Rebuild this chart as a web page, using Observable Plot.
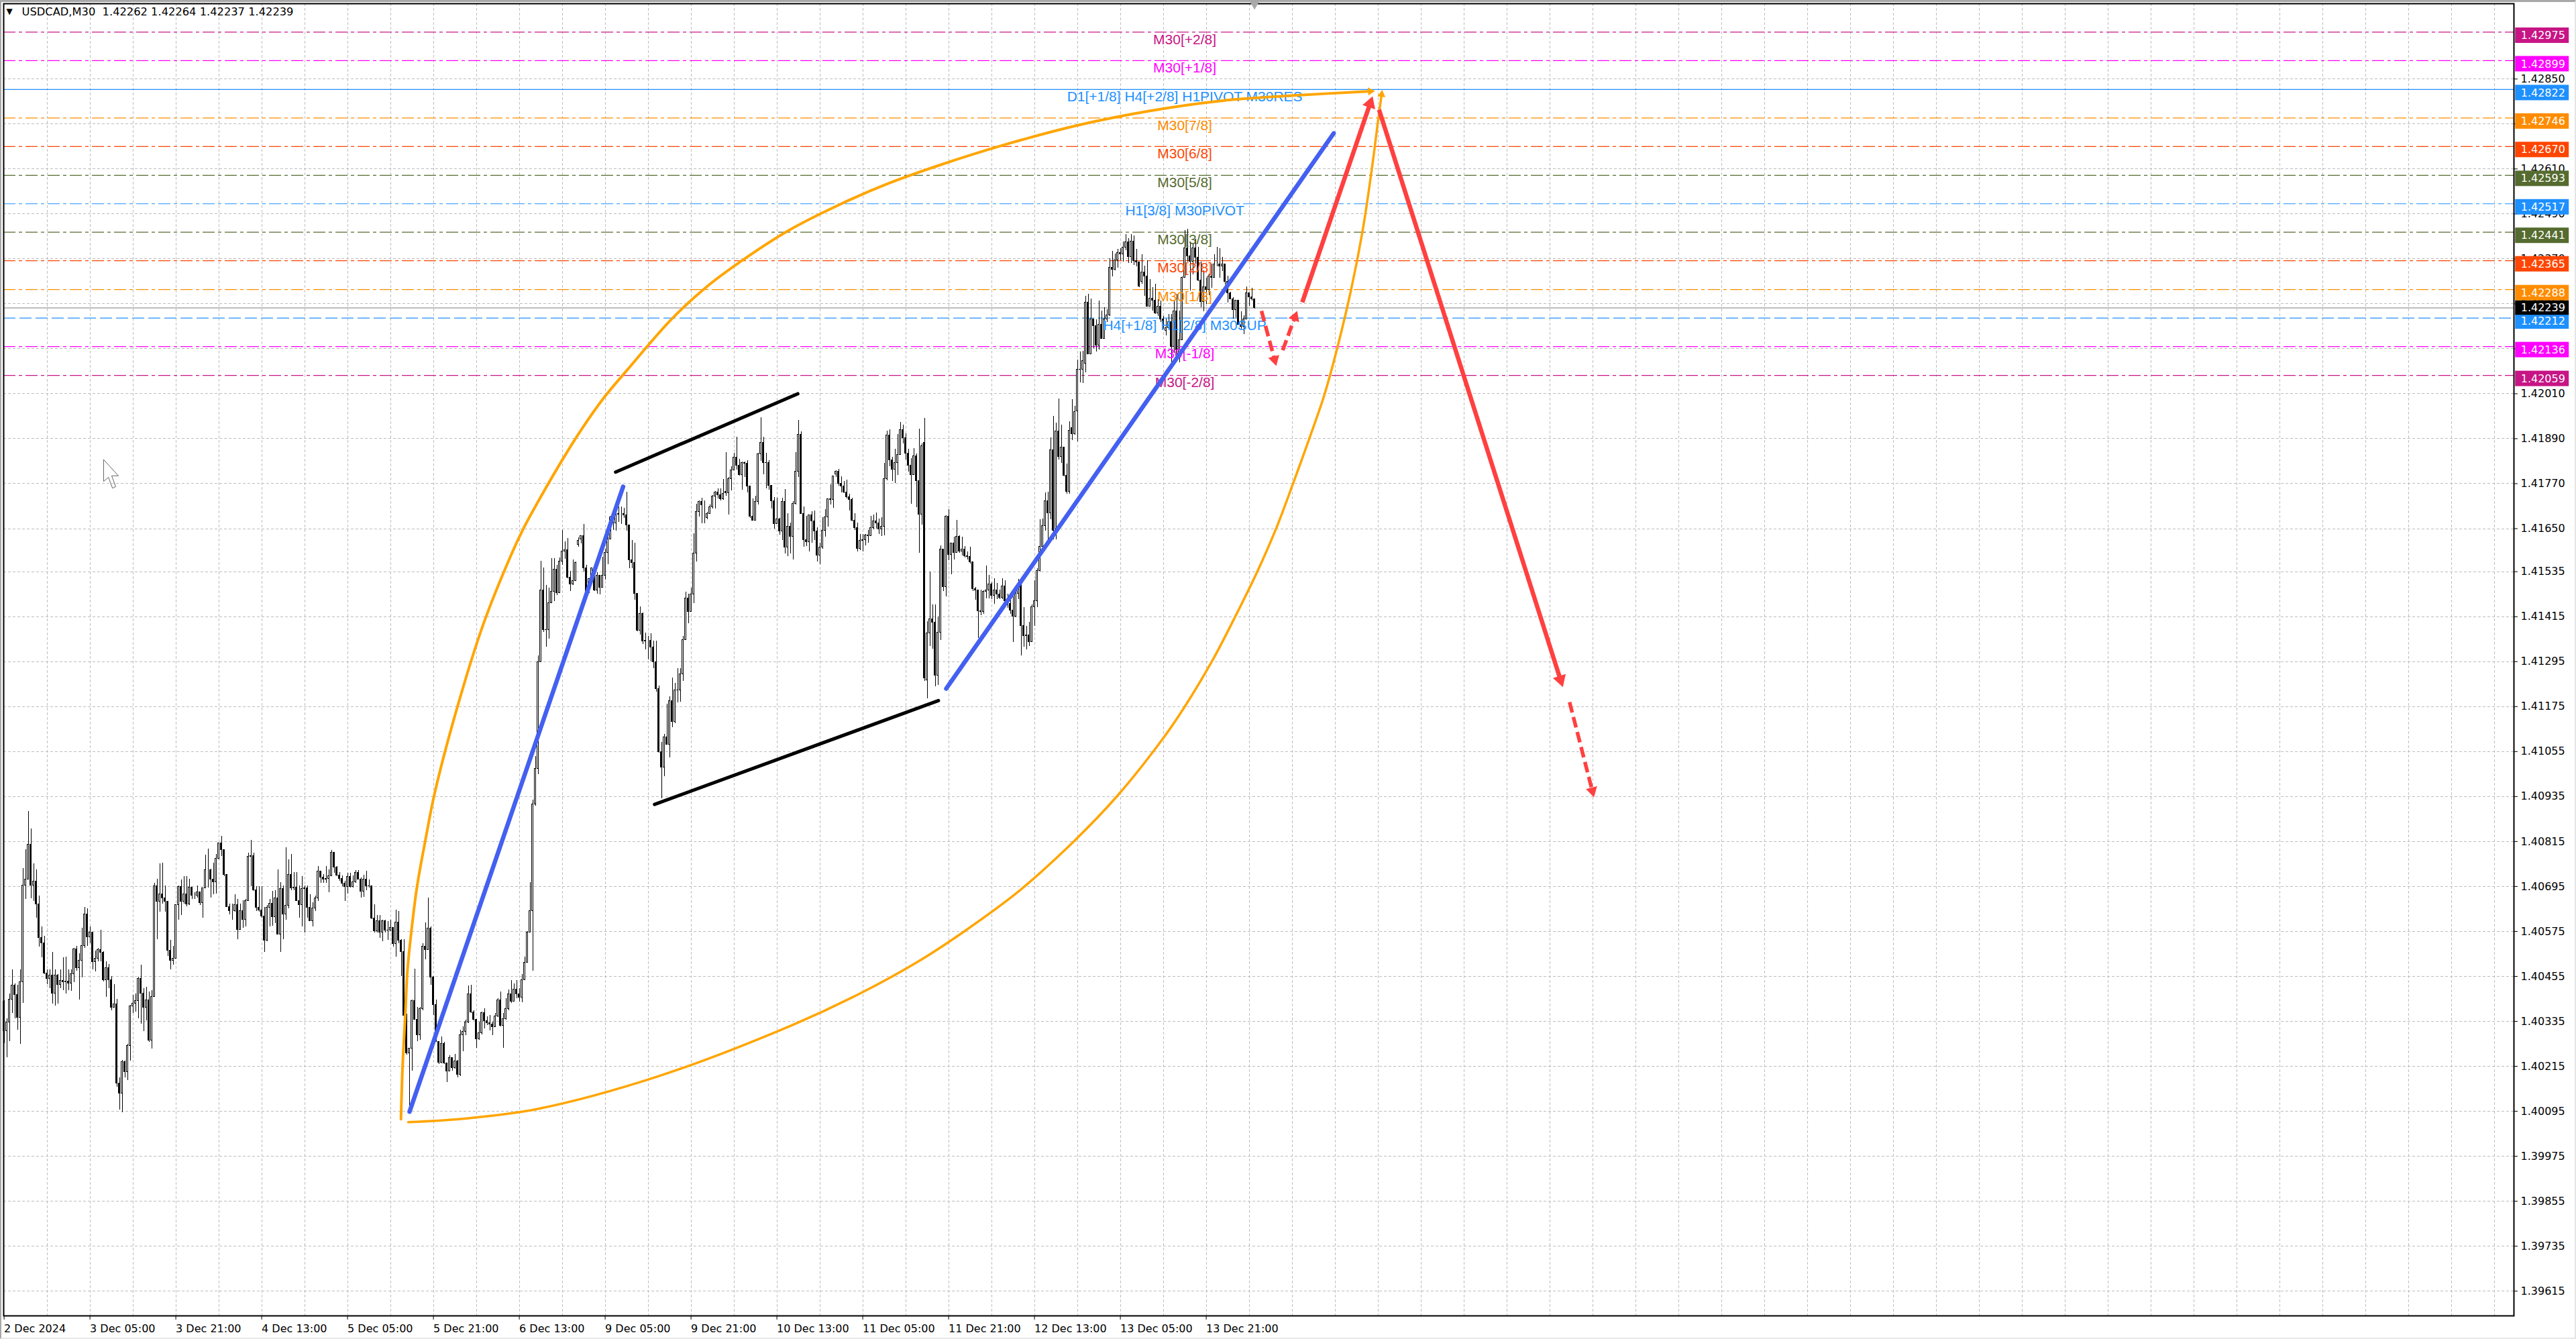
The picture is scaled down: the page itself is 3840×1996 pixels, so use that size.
<!DOCTYPE html>
<html><head><meta charset="utf-8">
<script src="https://cdn.jsdelivr.net/npm/d3@7"></script>
<script src="https://cdn.jsdelivr.net/npm/@observablehq/plot@0.6"></script>
<style>
html,body{margin:0;padding:0;background:#fff;overflow:hidden}
#chrome{position:fixed;inset:0;box-sizing:border-box;border-top:3px solid #a8a8a8;border-left:2px solid #a8a8a8;border-right:2px solid #e4e4e4;border-bottom:2px solid #e8e8e8;pointer-events:none}
svg{display:block;background:transparent!important}
</style></head><body>
<div id="chart"></div><div id="chrome"></div>
<script>
// All candle values are points above 1.40000 (1 point = 0.00001), one entry per M30 bar.
const closes=[309,333,394,430,405,345,439,698,714,806,
697,709,647,558,544,463,449,457,409,457,
433,444,439,442,436,461,527,478,497,536,
621,559,573,494,503,525,518,445,478,445,
372,380,169,142,227,200,270,375,383,389,
448,409,371,392,284,401,695,654,675,664,
654,524,497,503,645,694,655,675,648,693,
670,670,679,651,691,738,738,713,706,769,
811,792,726,641,630,630,645,580,630,606,
657,775,776,685,638,632,615,550,639,649,
614,663,567,688,620,644,727,690,692,657,
645,688,691,638,603,636,663,736,719,714,
715,723,785,746,724,715,703,694,721,694,
706,732,714,682,714,696,695,610,575,602,
573,603,577,578,584,542,599,551,521,351,
250,263,390,339,298,368,534,526,583,452,
378,281,224,275,223,202,238,211,229,193,
299,308,332,408,360,339,288,303,358,336,
330,327,320,348,392,324,342,368,408,387,
420,408,399,445,492,573,629,915,1009,1293,
1485,1379,1380,1451,1482,1540,1478,1562,1589,1592,
1520,1502,1511,1559,1618,1631,1544,1482,1516,1544,
1485,1525,1493,1525,1586,1622,1681,1664,1688,1689,
1689,1686,1659,1566,1559,1476,1377,1423,1350,1351,
1351,1334,1293,1223,1053,1012,1094,1074,1190,1135,
1218,1219,1261,1353,1463,1428,1475,1583,1694,1722,
1712,1712,1690,1708,1736,1746,1739,1729,1744,1745,
1782,1806,1839,1818,1794,1825,1823,1762,1682,1672,
1722,1849,1880,1826,1825,1765,1723,1662,1675,1643,
1722,1600,1655,1628,1717,1803,1901,1689,1620,1614,
1686,1670,1643,1578,1600,1645,1680,1729,1727,1790,
1803,1770,1762,1746,1735,1727,1671,1652,1596,1618,
1619,1633,1630,1652,1670,1664,1649,1655,1783,1898,
1832,1807,1825,1847,1913,1892,1850,1818,1793,1844,
1777,1687,1871,1250,1371,1408,1400,1258,1373,1595,
1495,1682,1580,1611,1585,1628,1589,1594,1576,1575,
1560,1489,1486,1430,1428,1482,1486,1501,1471,1486,
1474,1465,1496,1456,1449,1431,1415,1476,1499,1391,
1363,1366,1347,1440,1456,1538,1601,1658,1724,1692,
1860,1645,1909,1841,1866,1792,1748,1912,1903,1962,
2074,2075,2097,2254,2115,2208,2191,2139,2195,2156,
2208,2219,2346,2342,2367,2385,2383,2401,2415,2376,
2417,2364,2361,2297,2334,2324,2243,2264,2258,2225,
2242,2209,2198,2186,2201,2136,2230,2127,2153,2319,
2398,2377,2362,2399,2374,2312,2255,2294,2288,2324,
2319,2356,2356,2350,2356,2309,2278,2262,2234,2258,
2195,2189,2208,2279,2268,2262,2239];
const highs=[390,342,408,473,435,432,473,743,794,896,
849,756,740,670,588,563,473,473,520,473,
460,473,505,506,473,473,530,536,516,584,
639,636,587,573,523,530,579,521,494,487,
455,433,394,184,232,229,275,378,405,408,
453,485,423,426,414,417,704,715,756,758,
697,655,551,536,646,697,713,721,721,715,
679,679,697,679,692,779,796,742,757,781,
812,830,793,727,649,649,673,661,649,658,
660,784,818,784,694,695,694,639,644,661,
682,685,739,706,697,798,767,781,733,733,
697,721,697,697,673,652,670,748,730,727,
748,739,792,786,748,733,724,709,730,730,
724,738,738,718,726,736,712,695,646,618,
617,606,606,602,605,584,632,629,554,554,
354,264,393,475,372,372,542,598,664,587,
455,393,282,294,279,223,244,229,247,232,
312,321,339,429,432,363,339,333,360,369,
348,351,333,357,396,414,357,396,420,445,
436,444,423,461,506,575,706,925,1043,1310,
1563,1545,1499,1492,1571,1571,1552,1572,1645,1616,
1624,1537,1566,1561,1626,1631,1662,1552,1516,1544,
1533,1533,1526,1574,1595,1640,1683,1674,1712,1708,
1708,1705,1747,1660,1618,1612,1476,1441,1425,1372,
1362,1370,1351,1351,1231,1080,1102,1182,1202,1252,
1237,1277,1276,1362,1480,1475,1492,1637,1716,1725,
1732,1725,1694,1713,1739,1749,1756,1756,1782,1854,
1787,1815,1851,1895,1835,1828,1828,1832,1763,1729,
1737,1852,1947,1895,1851,1832,1766,1734,1731,1677,
1731,1754,1690,1665,1722,1853,1939,1908,1708,1683,
1687,1695,1698,1652,1612,1680,1701,1729,1767,1791,
1805,1809,1789,1777,1780,1742,1732,1690,1665,1635,
1635,1635,1646,1683,1686,1692,1676,1679,1825,1910,
1914,1841,1862,1902,1934,1926,1904,1862,1837,1864,
1849,1916,1876,1944,1402,1534,1447,1446,1414,1604,
1594,1685,1701,1611,1628,1673,1631,1628,1602,1588,
1601,1556,1493,1486,1487,1485,1551,1526,1505,1517,
1504,1487,1517,1511,1476,1476,1479,1496,1514,1499,
1440,1390,1401,1446,1511,1543,1674,1676,1745,1747,
1893,1950,1932,1996,1927,1867,1822,1936,1994,1977,
2100,2121,2124,2270,2276,2264,2210,2207,2258,2231,
2240,2234,2371,2391,2383,2395,2397,2415,2435,2425,
2436,2431,2395,2362,2382,2351,2365,2315,2294,2303,
2261,2258,2216,2210,2222,2222,2260,2276,2231,2322,
2446,2449,2416,2410,2422,2401,2362,2339,2318,2330,
2356,2382,2401,2398,2374,2356,2324,2282,2267,2260,
2258,2230,2218,2296,2280,2292,2264];
const lows=[276,238,282,356,342,312,275,384,661,721,
663,655,611,533,505,460,433,423,381,377,
381,423,418,408,417,415,438,470,393,452,
530,536,542,473,467,494,494,441,399,423,
363,372,160,99,91,184,178,229,357,360,
342,327,309,336,279,261,408,554,626,649,
626,509,473,485,503,605,617,649,641,644,
661,661,664,644,611,691,691,664,673,676,
766,775,722,639,620,605,626,553,578,584,
587,655,694,682,629,626,611,519,548,587,
590,596,566,519,554,605,635,685,685,655,
611,587,572,611,602,587,629,655,703,703,
703,679,721,730,721,709,694,655,676,691,
692,703,712,664,667,685,691,608,571,572,
557,548,572,551,575,533,506,542,455,349,
245,94,202,339,281,285,364,500,527,432,
351,281,220,223,220,172,211,202,208,184,
189,255,297,330,357,336,264,285,300,315,
324,310,297,318,345,320,264,339,363,384,
387,396,387,386,444,490,571,470,910,993,
1292,1373,1334,1355,1454,1456,1471,1477,1552,1568,
1516,1483,1498,1509,1600,1609,1535,1478,1478,1506,
1482,1475,1474,1491,1513,1555,1629,1645,1644,1667,
1662,1677,1644,1544,1544,1459,1375,1367,1341,1326,
1300,1295,1276,1214,1052,930,988,1074,1038,1120,
1130,1185,1187,1242,1357,1397,1427,1451,1561,1682,
1664,1664,1674,1690,1703,1703,1729,1725,1727,1736,
1686,1751,1804,1806,1790,1753,1787,1745,1677,1670,
1672,1713,1830,1794,1756,1753,1703,1650,1662,1633,
1619,1583,1575,1583,1567,1713,1787,1689,1600,1602,
1589,1612,1619,1562,1555,1595,1627,1655,1713,1704,
1787,1764,1746,1744,1729,1698,1668,1646,1589,1592,
1589,1604,1611,1629,1648,1649,1634,1630,1631,1778,
1815,1777,1770,1793,1846,1877,1834,1801,1716,1792,
1707,1585,1659,1243,1197,1335,1329,1229,1232,1352,
1482,1468,1565,1528,1567,1585,1585,1578,1573,1567,
1556,1483,1459,1358,1419,1422,1463,1463,1462,1449,
1461,1462,1462,1455,1438,1422,1347,1412,1461,1310,
1334,1327,1335,1346,1389,1440,1535,1592,1643,1618,
1675,1621,1620,1834,1825,1789,1742,1742,1885,1900,
1882,2040,2037,2067,2114,2115,2130,2121,2127,2156,
2156,2201,2216,2322,2339,2345,2365,2362,2392,2359,
2359,2352,2350,2294,2303,2270,2243,2243,2231,2222,
2216,2201,2183,2165,2183,2094,2118,2107,2094,2153,
2319,2362,2285,2327,2356,2309,2240,2230,2249,2273,
2291,2318,2350,2319,2337,2300,2252,2261,2210,2213,
2195,2183,2168,2208,2243,2258,2237];
// Opens equal the previous close except at these bars.
const openGaps={0:387,214:1607,215:1621,220:1525,262:1679,269:1748,310:1795,343:1880,344:1246,398:1919,400:1964,403:2090,424:2309,433:2179,438:2109};

const yTicks=[1.4285,1.4273,1.4261,1.4249,1.4237,1.4225,1.4213,1.4201,1.4189,1.4177,1.4165,1.41535,1.41415,1.41295,1.41175,1.41055,1.40935,1.40815,1.40695,1.40575,1.40455,1.40335,1.40215,1.40095,1.39975,1.39855,1.39735,1.39615];
const xTickLabels=["2 Dec 2024","3 Dec 05:00","3 Dec 21:00","4 Dec 13:00","5 Dec 05:00","5 Dec 21:00","6 Dec 13:00","9 Dec 05:00","9 Dec 21:00","10 Dec 13:00","11 Dec 05:00","11 Dec 21:00","12 Dec 13:00","13 Dec 05:00","13 Dec 21:00"];
const levelPrices=[1.42975,1.42899,1.42822,1.42746,1.4267,1.42593,1.42517,1.42441,1.42365,1.42288,1.42212,1.42136,1.42059];
const levelLabels=["M30[+2/8]","M30[+1/8]","D1[+1/8] H4[+2/8] H1PIVOT M30RES","M30[7/8]","M30[6/8]","M30[5/8]","H1[3/8] M30PIVOT","M30[3/8]","M30[2/8]","M30[1/8]","H4[+1/8] H1[2/8] M30SUP","M30[-1/8]","M30[-2/8]"];
const levelColors=["#C71585","#FF00FF","#1E90FF","#FF8C00","#FF4500","#556B2F","#1E90FF","#556B2F","#FF4500","#FF8C00","#1E90FF","#FF00FF","#C71585"];
const levelStyles=["dashdot","dashdot","solid","dashdot","dashdot","dashdot","dashdot","dashdot","dashdot","dashdot","dash","dashdot","dashdot"];
const lastPrice=1.42239;
const title="USDCAD,M30  1.42262 1.42264 1.42237 1.42239";

// Drawn objects, as [bar index, points above 1.40000].
const blueTrend=[[[151.1,94],[230.7,1762]],[[351.1,1223],[495.5,2705]]];
const blackChannel=[[[227.9,1801],[295.8,2010]],[[242.4,914],[348.2,1191]]];
const orangeUpper=[[147.9,74],[148.5,213],[149.5,351],[150.3,469],[152,589],[153.9,695],[157.1,822],[160.4,942],[168.6,1166],[178.6,1395],[188.6,1574],[193.6,1651],[198.6,1717],[207.9,1832],[215.1,1914],[223.6,2000],[232.4,2075],[248.6,2208],[261.9,2296],[276.1,2371],[292.4,2446],[311.1,2514],[329.1,2570],[348.6,2620],[373.6,2676],[400.4,2727],[427.1,2765],[453.9,2792],[480.8,2806],[510.9,2818]];
const orangeLower=[[150.6,66],[170.9,75],[198.6,101],[243.6,188],[292.4,321],[318.6,408],[341.4,498],[358.6,579],[378.1,682],[398.6,815],[414.9,937],[432,1091],[439,1164],[449.9,1293],[458.8,1415],[467.6,1544],[474.1,1651],[480.4,1771],[486.9,1900],[491.9,2004],[496.4,2120],[502,2288],[506.4,2450],[509.7,2609],[512,2736],[513.6,2821]];
const redArrows=[
 {from:[483.8,2254],to:[510,2804],dash:null},
 {from:[512.4,2768],to:[580.9,1227],dash:null},
 {from:[583.4,1187],to:[592.5,933],dash:"16,7"},
 {from:[468.6,2231],to:[474.1,2084],dash:"16,7"},
 {from:[476.5,2126],to:[481.9,2231],dash:"16,7"}];
const cursorOutline=[[37.1,1834],[37.1,1776],[38.9,1787],[40.4,1758],[41.6,1762],[40.1,1791],[42.6,1791],[37.1,1834]];

const price=p=>1.4+p/1e5;
const pxPerBar=4, pxPerPrice=55850;
const bars=closes.map((c,i)=>({i,o:price(openGaps[i]!==undefined?openGaps[i]:closes[i-1]),h:price(highs[i]),l:price(lows[i]),c:price(c)}));
const levels=levelPrices.map((v,i)=>({v,label:levelLabels[i],color:levelColors[i],style:levelStyles[i]}));

// Head of an arrow: a triangle set back from the tip, turned along the shaft in screen space.
function head(from,to,side,color){
  const dx=(to[0]-from[0])*pxPerBar, dy=-(price(to[1])-price(from[1]))*pxPerPrice;
  const len=Math.hypot(dx,dy), ux=dx/len, uy=dy/len, back=side*0.577;
  return {x:to[0]-ux*back/pxPerBar, y:price(to[1])+uy*back/pxPerPrice, rotate:Math.atan2(ux,-uy)*180/Math.PI, r:Math.sqrt(side*side*0.433/Math.PI), color};
}
const shaftEnd=h=>[h.x,(h.y-1.4)*1e5];
const redHeads=redArrows.map(a=>head(a.from,a.to,a.dash?17:20,"#FF4040"));
const orangeHeads=[head(orangeUpper[orangeUpper.length-3],orangeUpper[orangeUpper.length-1],12,"#FFA500"),head(orangeLower[orangeLower.length-2],orangeLower[orangeLower.length-1],12,"#FFA500")];
const linkOf=(a,b)=>({x1:a[0],y1:price(a[1]),x2:b[0],y2:price(b[1])});
const lastIdx=closes.length-1;
const xGrid=d3.range(16,930,16);
const tagHalf=0.000206, tagShift=0.00009;
const tagX1=935.9,tagX2=955.9;
const xy={x:d=>d[0],y:d=>price(d[1])};
const ends={x1:"x1",y1:"y1",x2:"x2",y2:"y2"};

const plot=Plot.plot({
  width:3840,height:1996,marginLeft:5,marginRight:93,marginTop:5,marginBottom:35,
  style:{fontFamily:"'DejaVu Sans',sans-serif",fontSize:"16px",background:"transparent",color:"#000"},
  x:{domain:[-0.15,935.35]},
  y:{domain:[1.39549,1.43051]},
  r:{type:"identity"},
  marks:[
    Plot.ruleX(xGrid,{stroke:"#bdbdbd",strokeDasharray:"4,3",shapeRendering:"crispEdges"}),
    Plot.ruleY(yTicks,{stroke:"#bdbdbd",strokeDasharray:"4,3",shapeRendering:"crispEdges"}),
    Plot.ruleY([lastPrice],{stroke:"#bdbdbd",strokeWidth:1.5,shapeRendering:"crispEdges"}),
    Plot.ruleY(levels.filter(d=>d.style==="solid"),{y:"v",stroke:"color",strokeWidth:1.2}),
    Plot.ruleY(levels.filter(d=>d.style==="dash"),{y:"v",stroke:"color",strokeWidth:1.2,strokeDasharray:"18,6"}),
    Plot.ruleY(levels.filter(d=>d.style==="dashdot"),{y:"v",stroke:"color",strokeWidth:1.2,strokeDasharray:"18,5,5,5"}),
    Plot.line(cursorOutline,{...xy,stroke:"#666",strokeWidth:1}),
    Plot.ruleX(bars,{x:"i",y1:"l",y2:"h",stroke:"#000",strokeWidth:1,shapeRendering:"crispEdges"}),
    Plot.rect(bars,{x1:d=>d.i-0.28,x2:d=>d.i+0.28,y1:"o",y2:"c",fill:d=>d.c>=d.o?"#fff":"#000",stroke:"#000",strokeWidth:1,shapeRendering:"crispEdges"}),
    Plot.text(levels,{x:()=>440,y:"v",text:"label",fill:"color",dy:11,fontFamily:"'Liberation Sans',Arial,sans-serif",fontSize:21}),
    Plot.line(orangeUpper.slice(0,-1).concat([shaftEnd(orangeHeads[0])]),{...xy,stroke:"#FFA500",strokeWidth:4,curve:"catmull-rom",strokeLinecap:"round"}),
    Plot.line(orangeLower.slice(0,-1).concat([shaftEnd(orangeHeads[1])]),{...xy,stroke:"#FFA500",strokeWidth:3.5,curve:"catmull-rom",strokeLinecap:"round"}),
    Plot.link(blueTrend.map(s=>linkOf(s[0],s[1])),{...ends,stroke:"#4460F0",strokeWidth:6.5,strokeLinecap:"round"}),
    Plot.link(blackChannel.map(s=>linkOf(s[0],s[1])),{...ends,stroke:"#000",strokeWidth:5,strokeLinecap:"round"}),
    Plot.link(redArrows.filter(a=>!a.dash).map(a=>linkOf(a.from,shaftEnd(redHeads[redArrows.indexOf(a)]))),{...ends,stroke:"#FF4040",strokeWidth:6.5}),
    Plot.link(redArrows.filter(a=>a.dash).map(a=>linkOf(a.from,shaftEnd(redHeads[redArrows.indexOf(a)]))),{...ends,stroke:"#FF4040",strokeWidth:5.5,strokeDasharray:"16,7"}),
    Plot.dot(redHeads.concat(orangeHeads),{x:"x",y:"y",r:"r",rotate:"rotate",symbol:"triangle",fill:"color",stroke:"none"}),
    Plot.frame({stroke:"#000",strokeWidth:2}),
    Plot.axisX(xTickLabels.map((_,k)=>k*32),{anchor:"bottom",tickFormat:d=>xTickLabels[d/32],textAnchor:"start",tickSize:6,tickPadding:7,label:null,fontSize:16}),
    Plot.axisY(yTicks,{anchor:"right",tickFormat:d3.format(".5f"),tickSize:5,tickPadding:5,label:null,fontSize:16}),
    Plot.rect(levels,{x1:()=>tagX1,x2:()=>tagX2,y1:d=>d.v-tagShift-tagHalf,y2:d=>d.v-tagShift+tagHalf,fill:"color"}),
    Plot.text(levels,{x:()=>tagX1,y:d=>d.v-tagShift,text:d=>d3.format(".5f")(d.v),fill:"#fff",dx:8,textAnchor:"start",fontSize:16}),
    Plot.rect([lastPrice],{x1:()=>tagX1,x2:()=>tagX2,y1:d=>d-tagHalf*0.93,y2:d=>d+tagHalf*0.93,fill:"#000"}),
    Plot.text([lastPrice],{x:()=>tagX1,y:d=>d,text:d=>d3.format(".5f")(d),fill:"#fff",dx:8,textAnchor:"start",fontSize:16}),
    Plot.text([title],{frameAnchor:"top-left",dx:27,dy:6,text:d=>d,fontSize:16.3,fill:"#000"}),
    Plot.text(["\u25BC"],{frameAnchor:"top-left",dx:4,dy:7,text:d=>d,fontSize:12,fill:"#000"}),
    Plot.dot([lastIdx],{x:d=>d,y:()=>1.43051,r:7,symbol:"triangle",rotate:180,fill:"#aaa",dy:-2})
  ]
});
document.getElementById("chart").appendChild(plot);
</script></body></html>
